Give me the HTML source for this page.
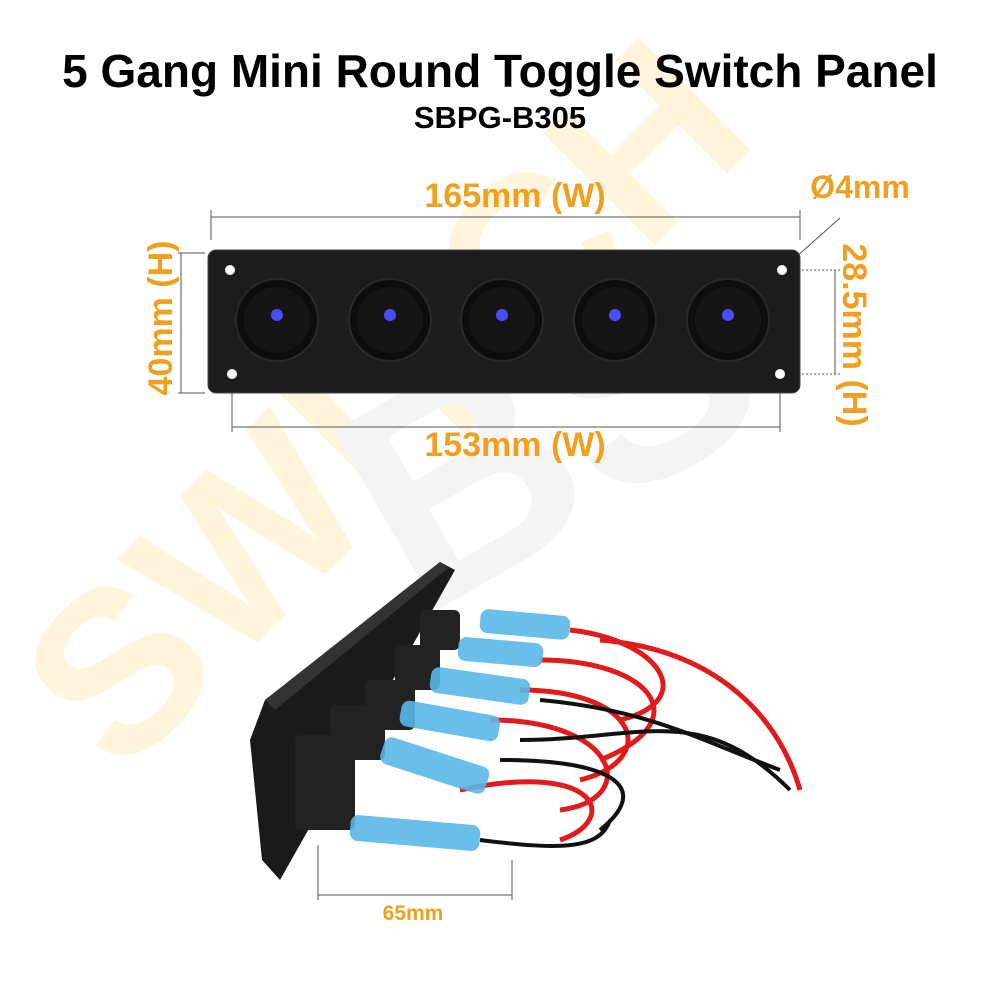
<!DOCTYPE html>
<html><head><meta charset="utf-8"><style>
html,body{margin:0;padding:0;background:#fff;}
svg{display:block;font-family:"Liberation Sans",Arial,sans-serif;}
</style></head><body>
<svg width="1000" height="1000" viewBox="0 0 1000 1000" xmlns="http://www.w3.org/2000/svg">
<g opacity="0.6">
<text x="0" y="0" font-size="230" font-weight="bold" fill="#fff0c8" transform="translate(120,780) rotate(-45)">SWITCH</text>
<text x="0" y="0" font-size="300" font-weight="bold" fill="#eeeeee" transform="translate(420,620) rotate(-30)">BS</text>
</g>
<text x="500" y="87" text-anchor="middle" font-size="46" font-weight="bold" fill="#000">5 Gang Mini Round Toggle Switch Panel</text>
<text x="500" y="128" text-anchor="middle" font-size="31" font-weight="bold" fill="#000">SBPG-B305</text>

<g stroke="#555" stroke-width="1" fill="none">
<line x1="211" y1="217" x2="800" y2="217"/>
<line x1="211" y1="210" x2="211" y2="240"/>
<line x1="800" y1="210" x2="800" y2="240"/>
<line x1="181" y1="253" x2="181" y2="393"/>
<line x1="178" y1="253" x2="205" y2="253"/>
<line x1="178" y1="393" x2="205" y2="393"/>
<line x1="835" y1="270" x2="835" y2="374"/>
<line x1="790" y1="270" x2="840" y2="270" stroke-dasharray="2,2"/>
<line x1="790" y1="374" x2="840" y2="374" stroke-dasharray="2,2"/>
<line x1="232" y1="427" x2="780" y2="427"/>
<line x1="232" y1="385" x2="232" y2="432"/>
<line x1="780" y1="385" x2="780" y2="432"/>
<line x1="787" y1="265" x2="840" y2="218"/>
</g>
<g fill="#f0a020" font-weight="bold" font-size="34">
<text x="515" y="207" text-anchor="middle">165mm (W)</text>
<text x="515" y="456" text-anchor="middle">153mm (W)</text>
<text x="860" y="198" text-anchor="middle" font-size="32">Ø4mm</text>
<text transform="translate(172,318) rotate(-90)" text-anchor="middle">40mm (H)</text>
<text transform="translate(843,335) rotate(90)" text-anchor="middle">28.5mm (H)</text>
</g>

<rect x="208" y="250" width="592" height="143" rx="8" fill="#1c1c1c" stroke="#444"/>
<g fill="#fff">
<circle cx="230" cy="270" r="5"/><circle cx="782" cy="270" r="5"/>
<circle cx="232" cy="374" r="5"/><circle cx="780" cy="374" r="5"/>
</g>
<g>
<g id="sw">
<circle cx="277" cy="320" r="41" fill="#0d0d0d" stroke="#2a2a2a" stroke-width="2"/>
<circle cx="277" cy="320" r="33" fill="#151515"/>
<circle cx="277" cy="315" r="6" fill="#4a4cff"/>
</g>
<use href="#sw" x="113"/><use href="#sw" x="225"/><use href="#sw" x="338"/><use href="#sw" x="451"/>
</g>

<polygon points="440,562 455,570 280,880 262,860 250,740 265,700" fill="#1a1a1a"/>
<polygon points="265,700 440,562 448,568 275,710" fill="#333"/>
<g fill="#222">
<rect x="420" y="610" width="40" height="40" rx="6"/>
<rect x="395" y="645" width="45" height="45" rx="6"/>
<rect x="365" y="680" width="50" height="50" rx="6"/>
<rect x="330" y="705" width="55" height="55" rx="6"/>
<rect x="295" y="735" width="60" height="95" rx="6"/>
</g>
<g fill="none" stroke="#e01b1b" stroke-width="5">
<path d="M570,630 C660,640 700,700 620,720"/>
<path d="M540,660 C650,660 700,720 600,760"/>
<path d="M520,690 C640,690 660,760 580,780"/>
<path d="M490,720 C620,720 640,800 560,810"/>
<path d="M460,790 C600,760 620,820 560,840"/>
<path d="M600,640 C720,650 780,720 800,790"/>
</g>
<g fill="none" stroke="#111" stroke-width="4">
<path d="M540,700 C650,710 700,740 780,770"/>
<path d="M500,760 C620,760 650,790 600,830"/>
<path d="M480,840 C560,850 600,850 610,820"/>
<path d="M520,740 C640,740 700,700 790,790"/>
</g>
<g fill="#5ab8e8" opacity="0.9">
<rect x="480" y="612" width="90" height="24" rx="8" transform="rotate(5 520 624)"/>
<rect x="458" y="640" width="85" height="24" rx="8" transform="rotate(5 500 652)"/>
<rect x="430" y="673" width="100" height="26" rx="8" transform="rotate(8 480 686)"/>
<rect x="400" y="708" width="100" height="26" rx="8" transform="rotate(10 450 720)"/>
<rect x="380" y="750" width="110" height="28" rx="8" transform="rotate(18 430 764)"/>
<rect x="350" y="820" width="130" height="26" rx="8" transform="rotate(5 415 833)"/>
</g>
<g stroke="#555" stroke-width="1" fill="none">
<line x1="318" y1="845" x2="318" y2="900"/>
<line x1="512" y1="860" x2="512" y2="900"/>
<line x1="318" y1="895" x2="512" y2="895"/>
</g>
<text x="413" y="920" text-anchor="middle" font-size="21" font-weight="bold" fill="#f0a020">65mm</text>
</svg>
</body></html>
